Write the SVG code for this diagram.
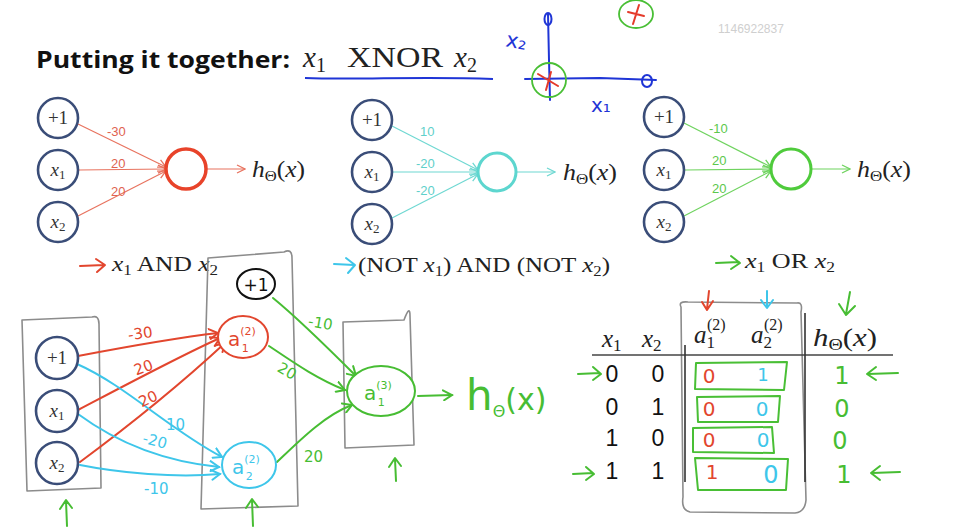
<svg xmlns="http://www.w3.org/2000/svg" width="974" height="530" viewBox="0 0 974 530">
<defs>
<style>
.bg{fill:#ffffff}
.in{fill:#fff;stroke:#3a4d78;stroke-width:2.6}
.nt{font-family:"Liberation Serif",serif;font-size:19px;fill:#333;text-anchor:middle}
.it{font-style:italic}
.m{font-family:"Liberation Serif",serif;fill:#222}
.w{font-family:"Liberation Sans",Arial,sans-serif;font-size:13px}
.hw{font-family:"DejaVu Sans","Liberation Sans",sans-serif}
.box{fill:none;stroke:#8c8c8c;stroke-width:1.6;stroke-linejoin:round}
.gb{fill:none;stroke:#49bf35;stroke-width:2;stroke-linejoin:round}
.hand{fill:none;stroke-width:2;stroke-linecap:round;stroke-linejoin:round}
</style>
<marker id="aR" viewBox="0 0 10 10" refX="9" refY="5" markerWidth="10" markerHeight="10" orient="auto" markerUnits="userSpaceOnUse"><path d="M1,1 L9,5 L1,9" fill="none" stroke="#e8735f" stroke-width="1.3"/></marker>
<marker id="aC" viewBox="0 0 10 10" refX="9" refY="5" markerWidth="10" markerHeight="10" orient="auto" markerUnits="userSpaceOnUse"><path d="M1,1 L9,5 L1,9" fill="none" stroke="#6fd8d2" stroke-width="1.3"/></marker>
<marker id="aG" viewBox="0 0 10 10" refX="9" refY="5" markerWidth="10" markerHeight="10" orient="auto" markerUnits="userSpaceOnUse"><path d="M1,1 L9,5 L1,9" fill="none" stroke="#6fd35f" stroke-width="1.3"/></marker>
<marker id="hR" viewBox="0 0 12 12" refX="10" refY="6" markerWidth="12" markerHeight="12" orient="auto" markerUnits="userSpaceOnUse"><path d="M1,1 L10,6 L2,11" fill="none" stroke="#e2462e" stroke-width="2" stroke-linecap="round"/></marker>
<marker id="hC" viewBox="0 0 12 12" refX="10" refY="6" markerWidth="12" markerHeight="12" orient="auto" markerUnits="userSpaceOnUse"><path d="M1,1 L10,6 L2,11" fill="none" stroke="#3ec6ea" stroke-width="2" stroke-linecap="round"/></marker>
<marker id="hG" viewBox="0 0 12 12" refX="10" refY="6" markerWidth="12" markerHeight="12" orient="auto" markerUnits="userSpaceOnUse"><path d="M1,1 L10,6 L2,11" fill="none" stroke="#47bd33" stroke-width="2" stroke-linecap="round"/></marker>
</defs>
<rect class="bg" x="0" y="0" width="974" height="530"/>

<!-- title -->
<g id="title">
<text x="36" y="68" font-family="'Open Sans','Liberation Sans',sans-serif" font-weight="bold" font-size="24" fill="#111" textLength="254" lengthAdjust="spacingAndGlyphs">Putting it together:</text>
<text x="303" y="67" class="m" font-size="29"><tspan class="it">x</tspan><tspan font-size="20" dy="5">1</tspan></text>
<text x="347" y="67" class="m" font-size="29" textLength="96" lengthAdjust="spacingAndGlyphs">XNOR</text>
<text x="454" y="67" class="m" font-size="29"><tspan class="it">x</tspan><tspan font-size="20" dy="5">2</tspan></text>
<path d="M305,78 C360,80 420,76 493,79" fill="none" stroke="#1f35d6" stroke-width="2"/>
</g>

<text x="718" y="33" font-family="'Liberation Sans',Arial,sans-serif" font-size="12" fill="#cfcfcf">1146922837</text>

<!-- axes sketch -->
<g id="axes">
<path class="hand" d="M548,14 L549,60 L550,100" stroke="#1f35d6"/>
<path class="hand" d="M525,79 L600,78 L656,80" stroke="#1f35d6"/>
<ellipse cx="548" cy="19" rx="3.5" ry="6" fill="none" stroke="#1f35d6" stroke-width="2"/>
<ellipse cx="647" cy="81" rx="5" ry="6" fill="none" stroke="#1f35d6" stroke-width="2"/>
<text x="506" y="48" class="hw" font-size="21" fill="#1f35d6" transform="rotate(10 515 42)">x₂</text>
<text x="591" y="112" class="hw" font-size="20" fill="#1f35d6">x₁</text>
<path class="hand" d="M538,74 L558,86 M551,72 L546,90" stroke="#e53a2a"/>
<ellipse cx="549" cy="80" rx="17" ry="17" fill="none" stroke="#49bf35" stroke-width="1.8"/>
<ellipse cx="636" cy="14" rx="17" ry="14" fill="none" stroke="#49bf35" stroke-width="1.8"/>
<path class="hand" d="M628,12 L644,16 M639,5 L633,24" stroke="#e53a2a"/>
</g>

<!-- top connectors -->
<g id="top-connectors" fill="none" stroke-width="1.2">
<line x1="78" y1="124" x2="166" y2="167" stroke="#e8735f" marker-end="url(#aR)"/>
<line x1="79" y1="170" x2="166" y2="169" stroke="#e8735f" marker-end="url(#aR)"/>
<line x1="78" y1="216" x2="166" y2="171" stroke="#e8735f" marker-end="url(#aR)"/>
<line x1="206" y1="169" x2="245" y2="169" stroke="#e8735f" marker-end="url(#aR)"/>
<line x1="392" y1="126" x2="478" y2="170" stroke="#6fd8d2" marker-end="url(#aC)"/>
<line x1="393" y1="172" x2="478" y2="172" stroke="#6fd8d2" marker-end="url(#aC)"/>
<line x1="392" y1="218" x2="478" y2="174" stroke="#6fd8d2" marker-end="url(#aC)"/>
<line x1="516" y1="172" x2="555" y2="172" stroke="#6fd8d2" marker-end="url(#aC)"/>
<line x1="684" y1="123" x2="771" y2="167" stroke="#6fd35f" marker-end="url(#aG)"/>
<line x1="685" y1="170" x2="771" y2="169" stroke="#6fd35f" marker-end="url(#aG)"/>
<line x1="684" y1="216" x2="771" y2="171" stroke="#6fd35f" marker-end="url(#aG)"/>
<line x1="811" y1="169" x2="850" y2="169" stroke="#6fd35f" marker-end="url(#aG)"/>
</g>
<g id="top-weights" class="w">
<text x="107" y="136" fill="#e06350">-30</text>
<text x="111" y="168" fill="#e06350">20</text>
<text x="111" y="196" fill="#e06350">20</text>
<text x="420" y="136" fill="#5fd0ca">10</text>
<text x="416" y="168" fill="#5fd0ca">-20</text>
<text x="416" y="195" fill="#5fd0ca">-20</text>
<text x="709" y="133" fill="#5cc84c">-10</text>
<text x="712" y="165" fill="#5cc84c">20</text>
<text x="712" y="193" fill="#5cc84c">20</text>
</g>

<!-- top network 1 -->
<g id="n1-bias"><circle class="in" cx="58" cy="118" r="20"/><text class="nt" x="58" y="124">+1</text></g>
<g id="n1-x1"><circle class="in" cx="58" cy="170" r="20"/><text class="nt" x="58" y="176"><tspan class="it">x</tspan><tspan font-size="13" dy="3">1</tspan></text></g>
<g id="n1-x2"><circle class="in" cx="58" cy="222" r="20"/><text class="nt" x="58" y="228"><tspan class="it">x</tspan><tspan font-size="13" dy="3">2</tspan></text></g>
<g id="n1-out"><circle cx="186" cy="169" r="20" fill="#fff" stroke="#e8432a" stroke-width="3.5"/></g>
<text x="252" y="177" class="m" font-size="23" textLength="53" lengthAdjust="spacingAndGlyphs"><tspan class="it">h</tspan><tspan font-size="15" dy="4">Θ</tspan><tspan dy="-4">(</tspan><tspan class="it">x</tspan>)</text>

<!-- top network 2 -->
<g id="n2-bias"><circle class="in" cx="372" cy="120" r="20"/><text class="nt" x="372" y="126">+1</text></g>
<g id="n2-x1"><circle class="in" cx="372" cy="172" r="20"/><text class="nt" x="372" y="178"><tspan class="it">x</tspan><tspan font-size="13" dy="3">1</tspan></text></g>
<g id="n2-x2"><circle class="in" cx="372" cy="224" r="20"/><text class="nt" x="372" y="230"><tspan class="it">x</tspan><tspan font-size="13" dy="3">2</tspan></text></g>
<g id="n2-out"><circle cx="497" cy="172" r="19" fill="#fff" stroke="#5dd6cf" stroke-width="3"/></g>
<text x="563" y="180" class="m" font-size="23" textLength="54" lengthAdjust="spacingAndGlyphs"><tspan class="it">h</tspan><tspan font-size="15" dy="4">Θ</tspan><tspan dy="-4">(</tspan><tspan class="it">x</tspan>)</text>

<!-- top network 3 -->
<g id="n3-bias"><circle class="in" cx="664" cy="117" r="20"/><text class="nt" x="664" y="123">+1</text></g>
<g id="n3-x1"><circle class="in" cx="664" cy="170" r="20"/><text class="nt" x="664" y="176"><tspan class="it">x</tspan><tspan font-size="13" dy="3">1</tspan></text></g>
<g id="n3-x2"><circle class="in" cx="664" cy="222" r="20"/><text class="nt" x="664" y="228"><tspan class="it">x</tspan><tspan font-size="13" dy="3">2</tspan></text></g>
<g id="n3-out"><circle cx="791" cy="169" r="20" fill="#fff" stroke="#4fcb3c" stroke-width="3"/></g>
<text x="857" y="177" class="m" font-size="23" textLength="54" lengthAdjust="spacingAndGlyphs"><tspan class="it">h</tspan><tspan font-size="15" dy="4">Θ</tspan><tspan dy="-4">(</tspan><tspan class="it">x</tspan>)</text>

<!-- function labels -->
<g id="lbl-and">
<path class="hand" d="M80,266 L104,265 M96,259 L105,265 L97,272" stroke="#e2462e"/>
<text x="112" y="271" class="m" font-size="21" fill="#d9503c" textLength="106" lengthAdjust="spacingAndGlyphs"><tspan class="it">x</tspan><tspan font-size="14" dy="4">1</tspan><tspan dy="-4"> AND </tspan><tspan class="it">x</tspan><tspan font-size="14" dy="4">2</tspan></text>
</g>
<g id="lbl-nor">
<path class="hand" d="M334,264 L354,265 M346,258 L355,265 L348,273" stroke="#3ec6ea"/>
<text x="358" y="272" class="m" font-size="21" fill="#62cfd4" textLength="252" lengthAdjust="spacingAndGlyphs">(NOT <tspan class="it">x</tspan><tspan font-size="14" dy="4">1</tspan><tspan dy="-4">) AND (NOT </tspan><tspan class="it">x</tspan><tspan font-size="14" dy="4">2</tspan><tspan dy="-4">)</tspan></text>
</g>
<g id="lbl-or">
<path class="hand" d="M716,263 L739,262 M731,256 L740,263 L731,269" stroke="#47bd33"/>
<text x="745" y="268" class="m" font-size="21" fill="#4fc43d" textLength="90" lengthAdjust="spacingAndGlyphs"><tspan class="it">x</tspan><tspan font-size="14" dy="4">1</tspan><tspan dy="-4"> OR </tspan><tspan class="it">x</tspan><tspan font-size="14" dy="4">2</tspan></text>
</g>

<!-- bottom layer boxes -->
<g id="layer-boxes">
<path class="box" d="M22,320 L92,317 Q99,315 99,324 L101,488 L27,491 Z"/>
<path class="box" d="M208,258 L284,252 Q292,248 292,258 L298,506 L201,509 Z"/>
<path class="box" d="M343,322 L404,320 Q410,304 410,316 L414,445 L345,448 Z"/>
</g>

<!-- bottom connectors -->
<g id="bottom-connectors" class="hand">
<path d="M78,356 C120,348 175,338 218,333" stroke="#e2462e" marker-end="url(#hR)"/>
<path d="M78,410 C120,388 180,356 220,338" stroke="#e2462e" marker-end="url(#hR)"/>
<path d="M80,462 C130,425 185,380 225,343" stroke="#e2462e" marker-end="url(#hR)"/>
<path d="M77,364 C125,385 170,430 222,457" stroke="#3ec6ea" marker-end="url(#hC)"/>
<path d="M78,414 C120,445 170,462 219,467" stroke="#3ec6ea" marker-end="url(#hC)"/>
<path d="M80,465 C120,473 175,478 220,474" stroke="#3ec6ea" marker-end="url(#hC)"/>
<path d="M273,298 C300,320 330,350 356,376" stroke="#47bd33" marker-end="url(#hG)"/>
<path d="M269,346 C290,360 315,378 345,390" stroke="#47bd33" marker-end="url(#hG)"/>
<path d="M277,462 C300,440 325,415 352,405" stroke="#47bd33" marker-end="url(#hG)"/>
<path d="M418,396 L452,395" stroke="#47bd33" marker-end="url(#hG)"/>
</g>
<g id="bottom-weights" class="hw" font-size="15">
<text x="128" y="338" fill="#e2462e" transform="rotate(-8 145 333)">-30</text>
<text x="134" y="372" fill="#e2462e" transform="rotate(-20 145 367)">20</text>
<text x="138" y="403" fill="#e2462e" transform="rotate(-25 150 397)">20</text>
<text x="166" y="430" fill="#3ec6ea">10</text>
<text x="143" y="446" fill="#3ec6ea" transform="rotate(15 155 440)">-20</text>
<text x="144" y="494" fill="#3ec6ea">-10</text>
<text x="308" y="329" fill="#47bd33" transform="rotate(10 325 325)">-10</text>
<text x="277" y="378" fill="#47bd33" transform="rotate(30 290 373)">20</text>
<text x="304" y="462" fill="#47bd33">20</text>
</g>

<!-- bottom nodes -->
<g id="b-bias"><circle class="in" cx="57" cy="358" r="21"/><text class="nt" x="57" y="364">+1</text></g>
<g id="b-x1"><circle class="in" cx="57" cy="411" r="21"/><text class="nt" x="57" y="417"><tspan class="it">x</tspan><tspan font-size="13" dy="3">1</tspan></text></g>
<g id="b-x2"><circle class="in" cx="57" cy="463" r="21"/><text class="nt" x="57" y="469"><tspan class="it">x</tspan><tspan font-size="13" dy="3">2</tspan></text></g>
<g id="b-bias2"><ellipse cx="256" cy="284" rx="19" ry="15" fill="#fff" stroke="#111" stroke-width="2"/><text class="hw" x="256" y="291" font-size="17" text-anchor="middle" fill="#111">+1</text></g>
<g id="b-a1"><ellipse cx="243" cy="337" rx="25" ry="21" fill="#fff" stroke="#e2462e" stroke-width="2"/><text class="hw" fill="#e2462e" x="228" y="346" font-size="20">a<tspan font-size="11" dy="-11">(2)</tspan><tspan font-size="11" dx="-14" dy="17">1</tspan></text></g>
<g id="b-a2"><ellipse cx="249" cy="465" rx="27" ry="23" fill="#fff" stroke="#3ec6ea" stroke-width="2"/><text class="hw" fill="#3ec6ea" x="232" y="474" font-size="20">a<tspan font-size="11" dy="-11">(2)</tspan><tspan font-size="11" dx="-14" dy="17">2</tspan></text></g>
<g id="b-a3"><ellipse cx="381" cy="391" rx="34" ry="25" fill="#fff" stroke="#47bd33" stroke-width="2"/><text class="hw" fill="#47bd33" x="364" y="400" font-size="20">a<tspan font-size="11" dy="-11">(3)</tspan><tspan font-size="11" dx="-14" dy="17">1</tspan></text></g>
<text class="hw" x="466" y="410" font-size="42" fill="#47bd33">h<tspan font-size="16" dy="7">Θ</tspan><tspan font-size="30" dy="-7">(x)</tspan></text>

<!-- up arrows -->
<g id="up-arrows" class="hand" stroke="#47bd33">
<path d="M67,526 L66,501 M60,509 L66,500 L72,508"/>
<path d="M253,526 L252,500 M246,508 L252,499 L258,507"/>
<path d="M396,481 L395,459 M389,467 L395,458 L401,466"/>
</g>

<!-- truth table -->
<g id="table">
<path class="box" d="M681,307 Q678,301 688,302 L797,303 Q803,302 801,312 L806,500 Q805,512 795,513 L690,512 Q681,510 683,497 Z"/>
<line x1="592" y1="355" x2="893" y2="355" stroke="#444" stroke-width="1.6"/>
<line x1="685" y1="345" x2="685" y2="482" stroke="#333" stroke-width="1.6"/>
<line x1="805" y1="313" x2="805" y2="482" stroke="#333" stroke-width="1.6"/>
<text x="602" y="347" class="m" font-size="25"><tspan class="it">x</tspan><tspan font-size="17" dy="4">1</tspan></text>
<text x="642" y="347" class="m" font-size="25"><tspan class="it">x</tspan><tspan font-size="17" dy="4">2</tspan></text>
<text x="694" y="343" class="m" font-size="25"><tspan class="it">a</tspan><tspan font-size="17" dy="5">1</tspan></text>
<text x="707" y="330" class="m" font-size="16">(2)</text>
<text x="751" y="343" class="m" font-size="25"><tspan class="it">a</tspan><tspan font-size="17" dy="5">2</tspan></text>
<text x="764" y="330" class="m" font-size="16">(2)</text>
<text x="813" y="346" class="m" font-size="25" textLength="64" lengthAdjust="spacingAndGlyphs"><tspan class="it">h</tspan><tspan font-size="16" dy="4">Θ</tspan><tspan dy="-4">(</tspan><tspan class="it">x</tspan>)</text>
<g font-family="'Liberation Sans',Arial,sans-serif" font-size="23" fill="#111" text-anchor="middle">
<text x="612" y="382">0</text><text x="658" y="382">0</text>
<text x="612" y="415">0</text><text x="658" y="415">1</text>
<text x="612" y="446">1</text><text x="658" y="446">0</text>
<text x="612" y="479">1</text><text x="658" y="479">1</text>
</g>
<path class="gb" d="M696,363 L787,362 L784,390 L695,389 Z"/>
<path class="gb" d="M697,397 L780,396 L778,422 L698,422 Z"/>
<path class="gb" d="M693,428 L772,427 L774,453 L693,452 Z"/>
<path class="gb" d="M695,458 L788,459 L786,490 L698,490 Z"/>
<g class="hw" text-anchor="middle">
<text x="709" y="383" font-size="20" fill="#e2462e">0</text>
<text x="709" y="416" font-size="20" fill="#e2462e">0</text>
<text x="709" y="447" font-size="20" fill="#e2462e">0</text>
<text x="712" y="479" font-size="20" fill="#e2462e">1</text>
<text x="763" y="381" font-size="18" fill="#3ec6ea">1</text>
<text x="762" y="416" font-size="20" fill="#3ec6ea">0</text>
<text x="763" y="447" font-size="20" fill="#3ec6ea">0</text>
<text x="771" y="483" font-size="24" fill="#3ec6ea">0</text>
<text x="842" y="384" font-size="24" fill="#47bd33">1</text>
<text x="842" y="417" font-size="24" fill="#47bd33">0</text>
<text x="840" y="449" font-size="24" fill="#47bd33">0</text>
<text x="844" y="483" font-size="24" fill="#47bd33">1</text>
</g>
<g class="hand">
<path d="M578,374 L600,373 M593,367 L601,374 L593,380" stroke="#47bd33"/>
<path d="M573,474 L593,473 M586,467 L594,474 L586,480" stroke="#47bd33"/>
<path d="M898,373 L868,374 M876,367 L867,374 L876,380" stroke="#47bd33"/>
<path d="M900,472 L872,473 M880,466 L871,473 L880,480" stroke="#47bd33"/>
<path d="M709,291 L707,309 M702,302 L707,310 L713,301" stroke="#e2462e"/>
<path d="M767,291 L767,307 M761,300 L767,308 L773,300" stroke="#3ec6ea"/>
<path d="M850,292 L846,314 M839,304 L846,315 L855,306" stroke="#47bd33"/>
</g>
</g>
</svg>
